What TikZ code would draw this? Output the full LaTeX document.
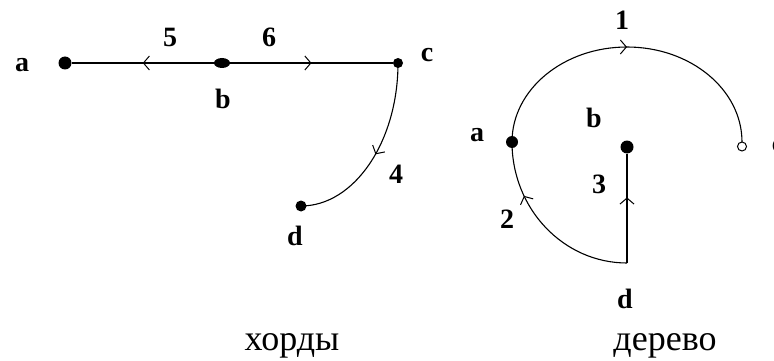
\documentclass[tikz,border=0pt]{standalone}
\usepackage{fontspec}
\setmainfont{Liberation Serif}
\usetikzlibrary{arrows.meta,decorations.markings,shapes.geometric}
\tikzset{
  lbl/.style={font=\fontsize{28}{28}\selectfont\bfseries, inner sep=0pt, anchor=base},
  captext/.style={font=\fontsize{36}{36}\selectfont, inner sep=0pt, anchor=base},
  dot/.style={circle, fill=black, inner sep=0pt, minimum size=#1},
  wire/.style={line width=1.1pt},
  midarrow/.style={postaction={decorate}, decoration={markings,
     mark=at position #1 with {\arrow[line width=1pt]{Straight Barb[length=6pt,width=14pt]}}}}
}
\begin{document}
\begin{tikzpicture}[x=1pt,y=-1pt]
\useasboundingbox (0,0) rectangle (774,361);
% left graph: chords
\node[dot=13pt] (la) at (65,63) {};
\node[ellipse, fill=black, inner sep=0pt, minimum width=16pt, minimum height=10pt] (lb) at (222,63) {};
\node[dot=10pt] (lc) at (398,63) {};
\node[dot=11pt] (ld) at (301,206) {};
\draw[wire, midarrow=0.5] (lb) -- (la);
\draw[wire, midarrow=0.5] (lb) -- (lc);
\draw[wire, midarrow=0.5] (lc.center) .. controls (398,142) and (354,206) .. (ld.center);
\node[lbl] (tla) at (22,72) {a};
\node[lbl] (tl5) at (170,47) {5};
\node[lbl] (tlb) at (223,108) {b};
\node[lbl] (tl6) at (269,47) {6};
\node[lbl] (tlc) at (427,62) {c};
\node[lbl] (tl4) at (396,183) {4};
\node[lbl] (tld) at (295,245) {d};
\node[captext] (chords) at (292,350) {хорды};
% right graph: tree
\coordinate (rd) at (627,263);
\node[dot=12pt] (ra) at (512,142) {};
\node[dot=13pt] (rb) at (627,147) {};
\draw[wire, midarrow=0.5] (ra.center) arc[start angle=180, end angle=0, x radius=115pt, y radius=95pt];
\node[circle, draw=black, fill=white, line width=1pt, inner sep=0pt, minimum size=9pt] (rc) at (742,146.5) {};
\draw[wire, midarrow=0.7] (rd) arc[start angle=270, end angle=180, x radius=115pt, y radius=121pt];
\draw[wire, midarrow=0.6] (rd) -- (rb);
\node[lbl] (tr1) at (622,30) {1};
\node[lbl] (trb) at (594,127) {b};
\node[lbl] (tra) at (477,141) {a};
\node[lbl] (trc) at (778,152) {c};
\node[lbl] (tr3) at (599,193) {3};
\node[lbl] (tr2) at (507,228) {2};
\node[lbl] (trd) at (625,308) {d};
\node[captext] (tree) at (665,350) {дерево};
\end{tikzpicture}
\end{document}
